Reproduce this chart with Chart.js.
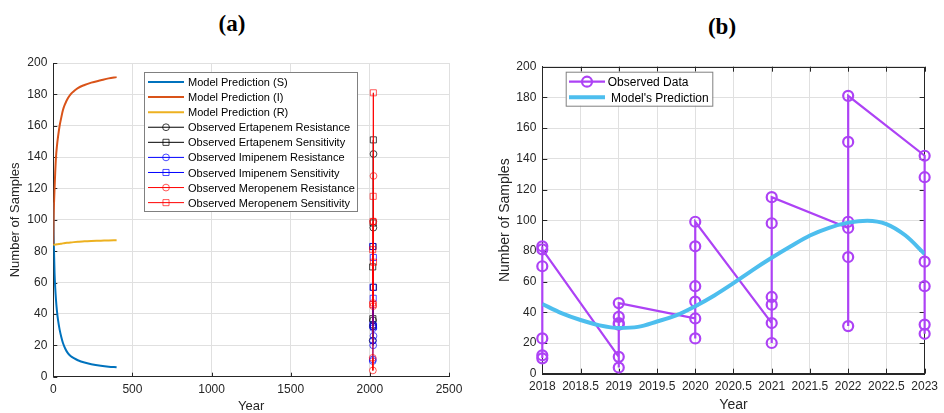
<!DOCTYPE html>
<html>
<head>
<meta charset="utf-8">
<script src="https://cdn.jsdelivr.net/npm/chart.js@4.4.1/dist/chart.umd.min.js"></script>
<style>
  body { margin: 0; background: #fff; width: 944px; height: 413px; overflow: hidden; position: relative; }
  canvas { position: absolute; top: 0; }
  #chartA { left: 0; }
  #chartB { left: 470px; }
  .ptitle { position: absolute; font-family: "Liberation Serif", serif; font-weight: bold; font-size: 23px; color: #000; transform: translate(-50%, -50%); line-height: 1; }
</style>
</head>
<body>
<div class="ptitle" style="left:232px; top:23px">(a)</div>
<div class="ptitle" style="left:722px; top:26px">(b)</div>
<canvas id="chartA" width="470" height="413"></canvas>
<canvas id="chartB" width="474" height="413"></canvas>
<script>
// ---- panel (a) data ----
const modelT = [0, 2, 5, 8, 12, 17, 23, 30, 40, 50, 61, 75, 92, 109, 130, 155, 197, 240, 300, 350, 400];
const modelS = [111, 92, 78, 66, 57, 49, 42, 36, 30, 25.5, 21.5, 18, 15, 13.2, 11.8, 10.5, 9, 8, 7, 6.4, 6];
const modelI = [84, 100, 112, 120, 130, 140, 147, 153, 160, 165, 170, 174, 177.5, 180, 182, 184, 186, 187.5, 189, 190.2, 191];
const modelR = [84, 84.05, 84.1, 84.15, 84.2, 84.3, 84.4, 84.5, 84.6, 84.8, 85, 85.2, 85.4, 85.6, 85.8, 86, 86.3, 86.5, 86.7, 86.9, 87];

const years = [2018, 2019, 2020, 2021, 2022, 2023];
const ertaR = [23, 32, 36, 33, 95, 142];
const ertaS = [70, 37, 83, 98, 151, 57];
const imiR = [10, 11, 23, 20, 31, 26];
const imiS = [83, 33, 57, 50, 76, 32];
const meroR = [12, 4, 47, 45, 99, 128];
const meroS = [81, 46, 99, 115, 181, 73];

const xTicksA = [0, 500, 1000, 1500, 2000, 2500];
const yTicks = [0, 20, 40, 60, 80, 100, 120, 140, 160, 180, 200];

// ---- panel (b) data ----
const obsYears = [2018, 2018, 2018, 2018, 2018, 2018,
                  2019, 2019, 2019, 2019, 2019, 2019,
                  2020, 2020, 2020, 2020, 2020, 2020,
                  2021, 2021, 2021, 2021, 2021, 2021,
                  2022, 2022, 2022, 2022, 2022, 2022,
                  2023, 2023, 2023, 2023, 2023, 2023];
const obsValues = [10, 12, 23, 70, 83, 81,
                   11, 4, 32, 33, 37, 46,
                   36, 23, 47, 57, 83, 99,
                   33, 20, 45, 50, 98, 115,
                   95, 31, 76, 99, 151, 181,
                   142, 128, 73, 57, 32, 26];
const predYears = [2018, 2018.25, 2018.5, 2018.75, 2019, 2019.25, 2019.5, 2019.75, 2020, 2020.25, 2020.5,
                   2020.75, 2021, 2021.25, 2021.5, 2021.75, 2022, 2022.25, 2022.5, 2022.75, 2023];
const predValues = [45.4, 39.5, 35, 31.5, 29.8, 30.5, 34, 38, 44, 51, 59,
                    67.5, 75.5, 83, 90, 95, 98.4, 99.7, 97.5, 90, 78];
const xTicksB = [2018, 2018.5, 2019, 2019.5, 2020, 2020.5, 2021, 2021.5, 2022, 2022.5, 2023];

const pts = (xs, ys) => xs.map((x, i) => ({ x: x, y: ys[i] }));
const FONT = "'Liberation Sans', Arial, sans-serif";
const AXIS = '#262626';
const GRID = '#e0e0e0';
const PURPLE = '#AD42F5';

// inward tick marks and optional dark box
const boxTicks = {
  id: 'boxTicks',
  beforeDatasetsDraw(chart, args, opts) {
    const { ctx, chartArea: a, scales } = chart;
    const L = opts.len;
    ctx.save();
    ctx.strokeStyle = AXIS;
    ctx.lineWidth = 1;
    ctx.beginPath();
    scales.x.ticks.forEach(t => {
      const px = Math.round(scales.x.getPixelForValue(t.value)) + 0.5;
      ctx.moveTo(px, a.bottom); ctx.lineTo(px, a.bottom - L);
      if (opts.box) { ctx.moveTo(px, a.top); ctx.lineTo(px, a.top + L); }
    });
    scales.y.ticks.forEach(t => {
      const py = Math.round(scales.y.getPixelForValue(t.value)) + 0.5;
      ctx.moveTo(a.left, py); ctx.lineTo(a.left + L, py);
      if (opts.box) { ctx.moveTo(a.right, py); ctx.lineTo(a.right - L, py); }
    });
    ctx.stroke();
    if (opts.box) {
      ctx.strokeRect(Math.round(a.left) + 0.5, Math.round(a.top) + 0.5, Math.round(a.right - a.left), Math.round(a.bottom - a.top));
    }
    ctx.restore();
  }
};

function marker(ctx, style, x, y, r) {
  ctx.beginPath();
  if (style === 'rect') {
    const s = r * Math.SQRT1_2;
    ctx.rect(x - s, y - s, 2 * s, 2 * s);
  } else {
    ctx.arc(x, y, r, 0, Math.PI * 2);
  }
  ctx.stroke();
}

// legend drawn inside the axes like MATLAB
const boxLegend = {
  id: 'boxLegend',
  afterDraw(chart, args, o) {
    const ctx = chart.ctx;
    ctx.save();
    ctx.fillStyle = '#fff';
    ctx.fillRect(o.x, o.y, o.w, o.h);
    ctx.strokeStyle = '#808080';
    ctx.lineWidth = 1;
    ctx.strokeRect(o.x + 0.5, o.y + 0.5, o.w, o.h);
    ctx.font = o.font;
    ctx.textBaseline = 'middle';
    chart.data.datasets.forEach((ds, i) => {
      const y = o.rowY + i * o.rowH;
      ctx.strokeStyle = ds.borderColor;
      ctx.lineWidth = ds.borderWidth;
      ctx.beginPath();
      ctx.moveTo(o.lineX0, y); ctx.lineTo(o.lineX1, y);
      ctx.stroke();
      if (ds.pointRadius > 0) {
        ctx.strokeStyle = ds.pointBorderColor;
        ctx.lineWidth = ds.pointBorderWidth;
        marker(ctx, ds.pointStyle, (o.lineX0 + o.lineX1) / 2, y, ds.pointRadius);
      }
      ctx.fillStyle = '#000';
      ctx.fillText(ds.label, o.textX, y + 1);
    });
    ctx.restore();
  }
};

function tickSetter(list) {
  return s => { s.ticks = list.map(v => ({ value: v })); };
}

function obsSet(label, ys, color, markerColor, style, order) {
  return {
    label: label, data: pts(years, ys),
    borderColor: color, borderWidth: 1,
    pointStyle: style, pointRadius: style === 'rect' ? 4.3 : 3.4,
    pointBorderColor: markerColor, pointBorderWidth: 1,
    pointBackgroundColor: 'rgba(0,0,0,0)', order: order
  };
}

new Chart(document.getElementById('chartA'), {
  type: 'line',
  data: {
    datasets: [
      { label: 'Model Prediction (S)', data: pts(modelT, modelS), borderColor: '#0072BD', borderWidth: 2, pointRadius: 0, cubicInterpolationMode: 'monotone', order: 9 },
      { label: 'Model Prediction (I)', data: pts(modelT, modelI), borderColor: '#D95319', borderWidth: 2, pointRadius: 0, cubicInterpolationMode: 'monotone', order: 8 },
      { label: 'Model Prediction (R)', data: pts(modelT, modelR), borderColor: '#EDB120', borderWidth: 2, pointRadius: 0, cubicInterpolationMode: 'monotone', order: 7 },
      obsSet('Observed Ertapenem Resistance', ertaR, '#000000', 'rgba(0,0,0,0.75)', 'circle', 6),
      obsSet('Observed Ertapenem Sensitivity', ertaS, '#000000', 'rgba(0,0,0,0.75)', 'rect', 5),
      obsSet('Observed Imipenem Resistance', imiR, '#0000FF', 'rgba(0,0,255,0.7)', 'circle', 4),
      obsSet('Observed Imipenem Sensitivity', imiS, '#0000FF', 'rgba(0,0,255,0.7)', 'rect', 3),
      obsSet('Observed Meropenem Resistance', meroR, '#FF0000', 'rgba(255,0,0,0.65)', 'circle', 2),
      obsSet('Observed Meropenem Sensitivity', meroS, '#FF0000', 'rgba(255,0,0,0.65)', 'rect', 1)
    ]
  },
  options: {
    responsive: false, animation: false,
    layout: { padding: { top: 63, right: 21, left: 0, bottom: 0 } },
    plugins: {
      legend: { display: false }, tooltip: { enabled: false },
      boxTicks: { len: 4, box: false },
      boxLegend: { x: 144, y: 72, w: 213, h: 139, rowY: 82, rowH: 15.08, lineX0: 148, lineX1: 184, textX: 188, font: "11px " + FONT }
    },
    scales: {
      x: {
        type: 'linear', min: 0, max: 2500,
        afterBuildTicks: tickSetter(xTicksA),
        afterFit: s => { s.height = 36.3; },
        grid: { color: GRID, drawTicks: false },
        border: { color: AXIS, width: 1 },
        ticks: { color: AXIS, padding: 6, font: { family: FONT, size: 12 }, callback: v => String(v) },
        title: { display: true, text: 'Year', color: AXIS, padding: 0, font: { family: FONT, size: 13, lineHeight: 1 } }
      },
      y: {
        min: 0, max: 200,
        afterBuildTicks: tickSetter(yTicks),
        afterFit: s => { s.width = 53.3; },
        grid: { color: GRID, drawTicks: false },
        border: { color: AXIS, width: 1 },
        ticks: { color: AXIS, padding: 6, font: { family: FONT, size: 12 }, callback: v => String(v) },
        title: { display: true, text: 'Number of Samples', color: AXIS, padding: { top: 9, bottom: 0 }, font: { family: FONT, size: 13, lineHeight: 1 } }
      }
    }
  },
  plugins: [boxTicks, boxLegend]
});

new Chart(document.getElementById('chartB'), {
  type: 'line',
  data: {
    datasets: [
      { label: 'Observed Data', data: pts(obsYears, obsValues), borderColor: PURPLE, borderWidth: 2.2,
        pointStyle: 'circle', pointRadius: 5, pointBorderColor: PURPLE, pointBorderWidth: 2.2,
        pointBackgroundColor: 'rgba(0,0,0,0)', order: 2, clip: false },
      { label: " Model's Prediction", data: pts(predYears, predValues), borderColor: '#4DBEEE', borderWidth: 4,
        pointRadius: 0, cubicInterpolationMode: 'monotone', order: 1 }
    ]
  },
  options: {
    responsive: false, animation: false,
    layout: { padding: { top: 66.7, right: 12.7, left: 0, bottom: 0 } },
    plugins: {
      legend: { display: false }, tooltip: { enabled: false },
      boxTicks: { len: 5, box: true },
      boxLegend: { x: 95.7, y: 71.7, w: 146.6, h: 34, rowY: 81.7, rowH: 15.6, lineX0: 99, lineX1: 135, textX: 137.7, font: "12px " + FONT }
    },
    scales: {
      x: {
        type: 'linear', min: 2018, max: 2023,
        afterBuildTicks: tickSetter(xTicksB),
        afterFit: s => { s.height = 39.3; },
        grid: { color: GRID, drawTicks: false },
        border: { color: AXIS, width: 1 },
        ticks: { color: AXIS, padding: 6, maxRotation: 0, autoSkip: false, font: { family: FONT, size: 12 }, callback: v => String(v) },
        title: { display: true, text: 'Year', color: AXIS, padding: 1, font: { family: FONT, size: 14, lineHeight: 1 } }
      },
      y: {
        min: 0, max: 200,
        afterBuildTicks: tickSetter(yTicks),
        afterFit: s => { s.width = 72.3; },
        grid: { color: GRID, drawTicks: false },
        border: { color: AXIS, width: 1 },
        ticks: { color: AXIS, padding: 6, font: { family: FONT, size: 12 }, callback: v => String(v) },
        title: { display: true, text: 'Number of Samples', color: AXIS, padding: { top: 28, bottom: 0 }, font: { family: FONT, size: 14, lineHeight: 1 } }
      }
    }
  },
  plugins: [boxTicks, boxLegend]
});
</script>
</body>
</html>
